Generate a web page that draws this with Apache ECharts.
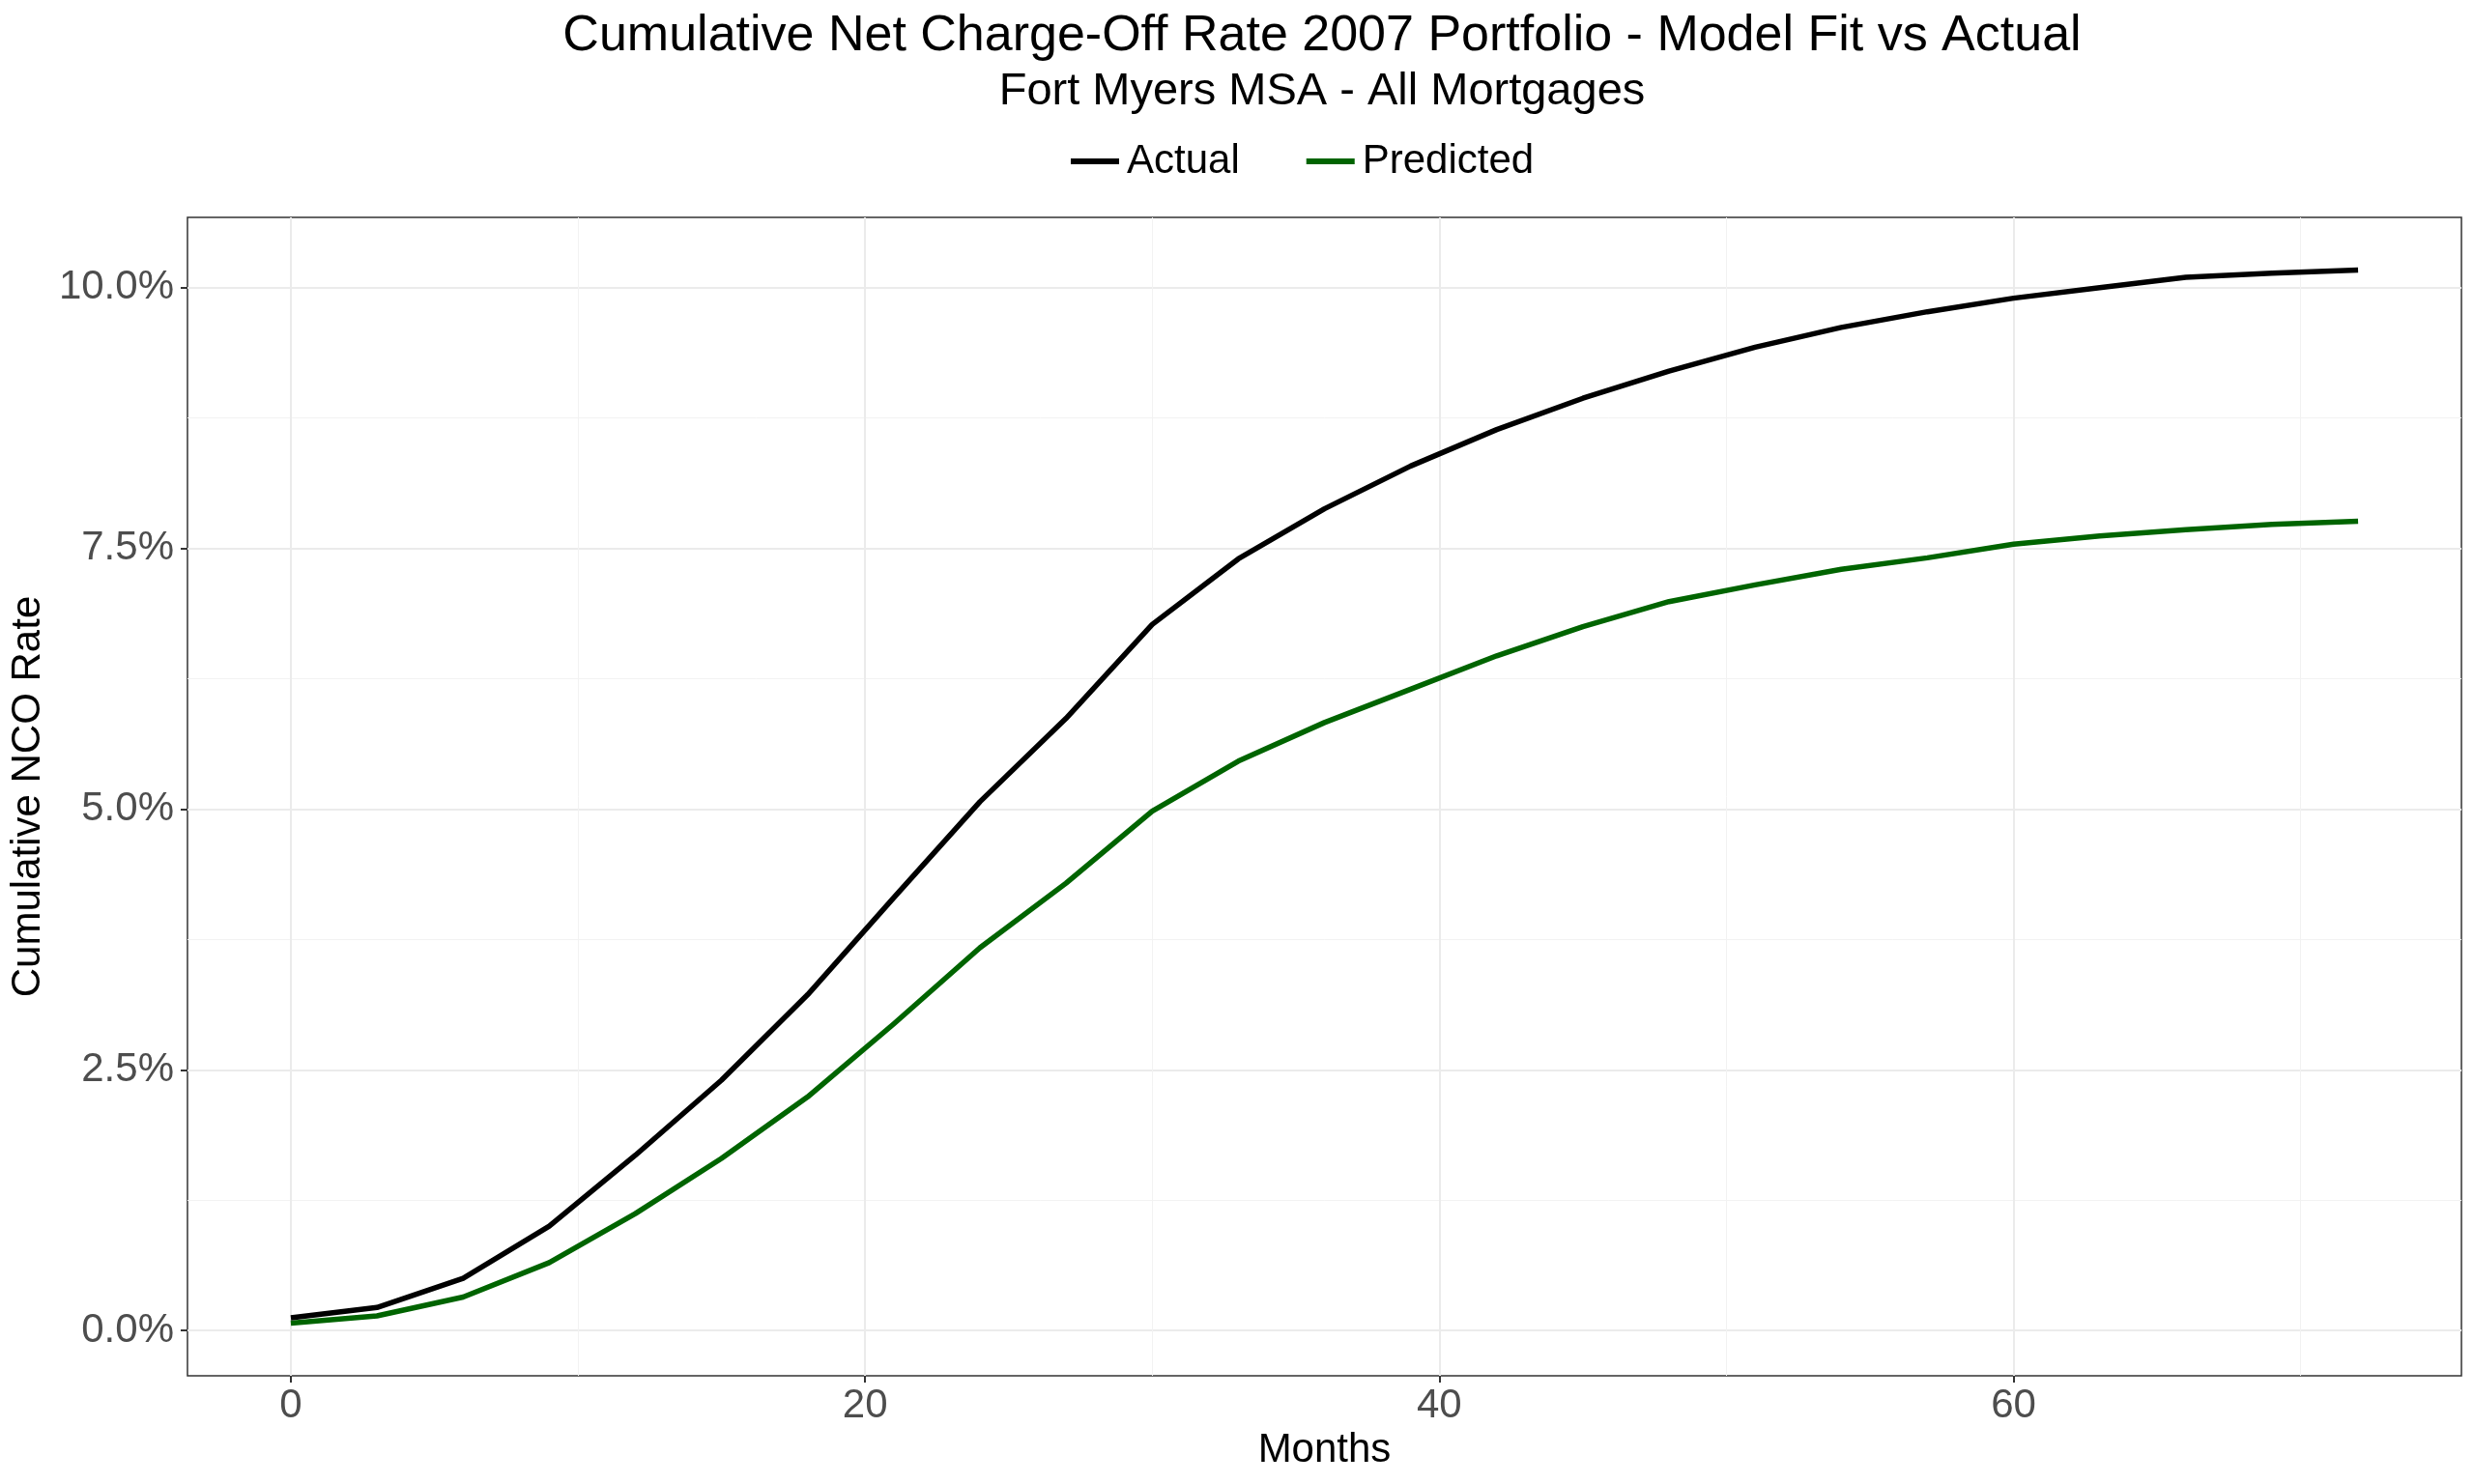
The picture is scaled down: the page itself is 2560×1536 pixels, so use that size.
<!DOCTYPE html>
<html>
<head>
<meta charset="utf-8">
<script src="https://cdn.jsdelivr.net/npm/echarts@6/dist/echarts.min.js"></script>
<style>
  html, body { margin: 0; padding: 0; background: #ffffff; }
  #chart { width: 2560px; height: 1536px; }
</style>
</head>
<body>
<div id="chart"></div>
<script>
// ---- data ----
const months = [0, 3, 6, 9, 12, 15, 18, 21, 24, 27, 30, 33, 36, 39, 42, 45, 48, 51, 54, 57, 60, 63, 66, 69, 72];
const actual = [0.12, 0.22, 0.50, 1.00, 1.68, 2.40, 3.22, 4.15, 5.07, 5.87, 6.77, 7.40, 7.88, 8.29, 8.64, 8.94, 9.20, 9.43, 9.62, 9.77, 9.90, 10.00, 10.10, 10.14, 10.17];
const predicted = [0.07, 0.14, 0.32, 0.65, 1.12, 1.65, 2.24, 2.94, 3.67, 4.29, 4.98, 5.46, 5.83, 6.15, 6.47, 6.75, 6.99, 7.15, 7.30, 7.41, 7.54, 7.62, 7.68, 7.73, 7.76];
const xMajorTicks = [0, 20, 40, 60];
const xMinorTicks = [10, 30, 50, 70];
const yMajorTicks = [0, 2.5, 5, 7.5, 10];
const yMinorTicks = [1.25, 3.75, 6.25, 8.75];
const seriesNames = ['Actual', 'Predicted'];
const titleText = 'Cumulative Net Charge-Off Rate 2007 Portfolio - Model Fit vs Actual';
const subtitleText = 'Fort Myers MSA - All Mortgages';

// ggplot-style 5% expansion of the data range
const xMin = -3.6, xMax = 75.6;
const allY = actual.concat(predicted);
const yLo = Math.min(...allY), yHi = Math.max(...allY);
const yPad = (yHi - yLo) * 0.05;
const yMin = yLo - yPad, yMax = yHi + yPad;

const FONT = "'Liberation Sans', Arial, Helvetica, sans-serif";
const chart = echarts.init(document.getElementById('chart'), null, { renderer: 'canvas' });

const pair = (xs, ys) => xs.map((x, i) => [x, ys[i]]);

chart.setOption({
  animation: false,
  backgroundColor: '#ffffff',
  textStyle: { fontFamily: FONT },
  title: [
    { text: titleText, left: 1368, top: 12, textAlign: 'center', padding: 0,
      textStyle: { fontFamily: FONT, fontSize: 52, fontWeight: 'normal', color: '#000000' } },
    { text: subtitleText, left: 1368, top: 72, textAlign: 'center', padding: 0,
      textStyle: { fontFamily: FONT, fontSize: 47, fontWeight: 'normal', color: '#000000' } }
  ],
  legend: {
    data: seriesNames,
    left: 1108, top: 146, padding: 0,
    icon: 'rect', itemWidth: 50, itemHeight: 6, itemGap: 69,
    textStyle: { fontFamily: FONT, fontSize: 42, color: '#000000', padding: [0, 0, 0, 3] }
  },
  grid: {
    left: 191, right: 13, top: 225, bottom: 112,
    show: true, borderColor: '#333333', borderWidth: 1.5, backgroundColor: 'transparent',
    containLabel: false
  },
  xAxis: [
    {
      type: 'value', min: xMin, max: xMax, position: 'bottom',
      name: 'Months', nameLocation: 'middle', nameGap: 56,
      nameTextStyle: { fontFamily: FONT, fontSize: 42, color: '#000000' },
      axisLine: { show: false, onZero: false },
      axisTick: { show: true, length: 7, inside: false, customValues: xMajorTicks,
        lineStyle: { color: '#333333', width: 2 } },
      axisLabel: { show: true, customValues: xMajorTicks, margin: 10,
        fontFamily: FONT, fontSize: 42, color: '#4D4D4D' },
      splitLine: { show: true, lineStyle: { color: '#EBEBEB', width: 2 } }
    },
    {
      type: 'value', min: xMin, max: xMax, position: 'bottom',
      axisLine: { show: false, onZero: false },
      axisTick: { show: false, customValues: xMinorTicks },
      axisLabel: { show: false, customValues: xMinorTicks },
      splitLine: { show: true, lineStyle: { color: '#F2F2F2', width: 1 } }
    }
  ],
  yAxis: [
    {
      type: 'value', min: yMin, max: yMax, position: 'left',
      name: 'Cumulative NCO Rate', nameLocation: 'middle', nameGap: 140, nameRotate: 90,
      nameTextStyle: { fontFamily: FONT, fontSize: 42, color: '#000000' },
      axisLine: { show: false, onZero: false },
      axisTick: { show: true, length: 7, customValues: yMajorTicks,
        lineStyle: { color: '#333333', width: 2 } },
      axisLabel: { show: true, customValues: yMajorTicks, margin: 14,
        fontFamily: FONT, fontSize: 42, color: '#4D4D4D',
        formatter: v => v.toFixed(1) + '%' },
      splitLine: { show: true, lineStyle: { color: '#EBEBEB', width: 2 } }
    },
    {
      type: 'value', min: yMin, max: yMax, position: 'left',
      axisLine: { show: false, onZero: false },
      axisTick: { show: false, customValues: yMinorTicks },
      axisLabel: { show: false, customValues: yMinorTicks },
      splitLine: { show: true, lineStyle: { color: '#F2F2F2', width: 1 } }
    }
  ],
  series: [
    {
      name: seriesNames[0], type: 'line', xAxisIndex: 0, yAxisIndex: 0,
      data: pair(months, actual), showSymbol: false, symbol: 'none',
      color: '#000000',
      lineStyle: { color: '#000000', width: 5.5, join: 'round', cap: 'butt' },
      z: 3
    },
    {
      name: seriesNames[1], type: 'line', xAxisIndex: 0, yAxisIndex: 0,
      data: pair(months, predicted), showSymbol: false, symbol: 'none',
      color: '#006400',
      lineStyle: { color: '#006400', width: 5.5, join: 'round', cap: 'butt' },
      z: 2
    }
  ]
});
</script>
</body>
</html>
